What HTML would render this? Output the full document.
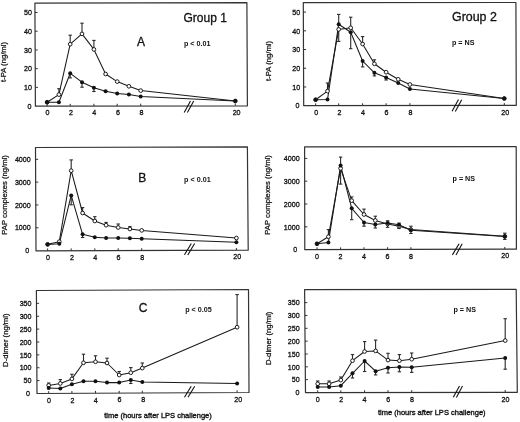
<!DOCTYPE html>
<html><head><meta charset="utf-8"><title>LPS challenge: t-PA, PAP complexes, D-dimer</title><style>
html,body{margin:0;padding:0;background:#fff;overflow:hidden;}
svg{display:block;font-family:"Liberation Sans", sans-serif;will-change:transform;}
</style></head><body>
<svg width="520" height="422" viewBox="0 0 520 422" fill="#111">
<rect width="520" height="422" fill="#fff"/>
<path d="M34.9,3.1 L246.9,2.6 L247.4,105.8 L35.4,106.2 Z" fill="none" stroke="#333" stroke-width="1.2" stroke-linejoin="round"/>
<text transform="translate(31.4,108.8) scale(0.89,1)" font-size="8.0" text-anchor="end" stroke="#111" stroke-width="0.32">0</text>
<line x1="35.31" y1="87.38" x2="37.91" y2="87.38" stroke="#333" stroke-width="1.0"/>
<text transform="translate(32,90.08) scale(0.89,1)" font-size="8.0" text-anchor="end" stroke="#111" stroke-width="0.32">10</text>
<line x1="35.22" y1="68.66" x2="37.82" y2="68.66" stroke="#333" stroke-width="1.0"/>
<text transform="translate(32,71.36) scale(0.89,1)" font-size="8.0" text-anchor="end" stroke="#111" stroke-width="0.32">20</text>
<line x1="35.13" y1="49.94" x2="37.73" y2="49.94" stroke="#333" stroke-width="1.0"/>
<text transform="translate(32,52.64) scale(0.89,1)" font-size="8.0" text-anchor="end" stroke="#111" stroke-width="0.32">30</text>
<line x1="35.04" y1="31.22" x2="37.64" y2="31.22" stroke="#333" stroke-width="1.0"/>
<text transform="translate(32,33.92) scale(0.89,1)" font-size="8.0" text-anchor="end" stroke="#111" stroke-width="0.32">40</text>
<line x1="34.95" y1="12.5" x2="37.55" y2="12.5" stroke="#333" stroke-width="1.0"/>
<text transform="translate(32,15.2) scale(0.89,1)" font-size="8.0" text-anchor="end" stroke="#111" stroke-width="0.32">50</text>
<line x1="47.1" y1="106.18" x2="47.1" y2="103.88" stroke="#333" stroke-width="1.0"/>
<text transform="translate(47.4,115.38) scale(0.89,1)" font-size="8.0" text-anchor="middle" stroke="#111" stroke-width="0.32">0</text>
<line x1="70.2" y1="106.13" x2="70.2" y2="103.83" stroke="#333" stroke-width="1.0"/>
<text transform="translate(70.9,115.33) scale(0.89,1)" font-size="8.0" text-anchor="middle" stroke="#111" stroke-width="0.32">2</text>
<line x1="93.9" y1="106.09" x2="93.9" y2="103.79" stroke="#333" stroke-width="1.0"/>
<text transform="translate(94.3,115.29) scale(0.89,1)" font-size="8.0" text-anchor="middle" stroke="#111" stroke-width="0.32">4</text>
<line x1="117.2" y1="106.05" x2="117.2" y2="103.75" stroke="#333" stroke-width="1.0"/>
<text transform="translate(118,115.24) scale(0.89,1)" font-size="8.0" text-anchor="middle" stroke="#111" stroke-width="0.32">6</text>
<line x1="140.7" y1="106" x2="140.7" y2="103.7" stroke="#333" stroke-width="1.0"/>
<text transform="translate(141.6,115.2) scale(0.89,1)" font-size="8.0" text-anchor="middle" stroke="#111" stroke-width="0.32">8</text>
<line x1="235.3" y1="105.82" x2="235.3" y2="103.52" stroke="#333" stroke-width="1.0"/>
<text transform="translate(236.6,115.02) scale(0.89,1)" font-size="8.0" text-anchor="middle" stroke="#111" stroke-width="0.32">20</text>
<line x1="184.2" y1="112.4" x2="190.5" y2="101.1" stroke="#111" stroke-width="1.1"/>
<line x1="187.4" y1="112.5" x2="193.7" y2="101.1" stroke="#111" stroke-width="1.1"/>
<line x1="58.9" y1="94.6" x2="58.9" y2="88.7" stroke="#2a2a2a" stroke-width="1.1"/>
<line x1="57.2" y1="88.7" x2="60.6" y2="88.7" stroke="#2a2a2a" stroke-width="1.1"/>
<line x1="70.2" y1="44.2" x2="70.2" y2="35.2" stroke="#2a2a2a" stroke-width="1.1"/>
<line x1="68.5" y1="35.2" x2="71.9" y2="35.2" stroke="#2a2a2a" stroke-width="1.1"/>
<line x1="82" y1="33.9" x2="82" y2="23.2" stroke="#2a2a2a" stroke-width="1.1"/>
<line x1="80.3" y1="23.2" x2="83.7" y2="23.2" stroke="#2a2a2a" stroke-width="1.1"/>
<line x1="93.9" y1="49.4" x2="93.9" y2="40.4" stroke="#2a2a2a" stroke-width="1.1"/>
<line x1="92.2" y1="40.4" x2="95.6" y2="40.4" stroke="#2a2a2a" stroke-width="1.1"/>
<line x1="70.2" y1="73.3" x2="70.2" y2="77.9" stroke="#2a2a2a" stroke-width="1.1"/>
<line x1="68.5" y1="77.9" x2="71.9" y2="77.9" stroke="#2a2a2a" stroke-width="1.1"/>
<line x1="82" y1="82.2" x2="82" y2="87.2" stroke="#2a2a2a" stroke-width="1.1"/>
<line x1="80.3" y1="87.2" x2="83.7" y2="87.2" stroke="#2a2a2a" stroke-width="1.1"/>
<line x1="93.9" y1="87.8" x2="93.9" y2="91.5" stroke="#2a2a2a" stroke-width="1.1"/>
<line x1="92.2" y1="91.5" x2="95.6" y2="91.5" stroke="#2a2a2a" stroke-width="1.1"/>
<polyline points="47.1,102.2 58.9,102.2 70.2,73.3 82,82.2 93.9,87.8 105.6,91.3 117.2,93.4 128.9,94.6 140.7,96.5 235.3,101" fill="none" stroke="#1a1a1a" stroke-width="1.05" stroke-linejoin="round"/>
<polyline points="47.1,102.2 58.9,94.6 70.2,44.2 82,33.9 93.9,49.4 105.6,74 117.2,81.6 128.9,86.3 140.7,90.6 235.3,101" fill="none" stroke="#1a1a1a" stroke-width="1.05" stroke-linejoin="round"/>
<circle cx="47.1" cy="102.2" r="1.85" fill="#fff" stroke="#111" stroke-width="0.95"/>
<circle cx="58.9" cy="94.6" r="1.85" fill="#fff" stroke="#111" stroke-width="0.95"/>
<circle cx="70.2" cy="44.2" r="1.85" fill="#fff" stroke="#111" stroke-width="0.95"/>
<circle cx="82" cy="33.9" r="1.85" fill="#fff" stroke="#111" stroke-width="0.95"/>
<circle cx="93.9" cy="49.4" r="1.85" fill="#fff" stroke="#111" stroke-width="0.95"/>
<circle cx="105.6" cy="74" r="1.85" fill="#fff" stroke="#111" stroke-width="0.95"/>
<circle cx="117.2" cy="81.6" r="1.85" fill="#fff" stroke="#111" stroke-width="0.95"/>
<circle cx="128.9" cy="86.3" r="1.85" fill="#fff" stroke="#111" stroke-width="0.95"/>
<circle cx="140.7" cy="90.6" r="1.85" fill="#fff" stroke="#111" stroke-width="0.95"/>
<circle cx="235.3" cy="101" r="1.85" fill="#fff" stroke="#111" stroke-width="0.95"/>
<circle cx="47.1" cy="102.2" r="2" fill="#111"/>
<circle cx="58.9" cy="102.2" r="2" fill="#111"/>
<circle cx="70.2" cy="73.3" r="2" fill="#111"/>
<circle cx="82" cy="82.2" r="2" fill="#111"/>
<circle cx="93.9" cy="87.8" r="2" fill="#111"/>
<circle cx="105.6" cy="91.3" r="2" fill="#111"/>
<circle cx="117.2" cy="93.4" r="2" fill="#111"/>
<circle cx="128.9" cy="94.6" r="2" fill="#111"/>
<circle cx="140.7" cy="96.5" r="2" fill="#111"/>
<circle cx="235.3" cy="101" r="2" fill="#111"/>
<text x="183.5" y="22.3" font-size="12" stroke="#111" stroke-width="0.3">Group 1</text>
<text x="137" y="45.9" font-size="12" stroke="#111" stroke-width="0.3">A</text>
<text x="183.9" y="45.8" font-size="7.2" font-weight="bold">p &lt; 0.01</text>
<text font-size="7.7" text-anchor="middle" stroke="#111" stroke-width="0.25" transform="translate(6.3,62) rotate(-90)">t-PA (ng/ml)</text>
<path d="M35.5,147.5 L247.4,146.8 L248.2,250.2 L36,250.8 Z" fill="none" stroke="#333" stroke-width="1.2" stroke-linejoin="round"/>
<text transform="translate(29.1,253.3) scale(0.89,1)" font-size="8.0" text-anchor="end" stroke="#111" stroke-width="0.32">0</text>
<line x1="35.89" y1="227.78" x2="38.49" y2="227.78" stroke="#333" stroke-width="1.0"/>
<text transform="translate(30.7,230.48) scale(0.89,1)" font-size="8.0" text-anchor="end" stroke="#111" stroke-width="0.32">1000</text>
<line x1="35.78" y1="204.96" x2="38.38" y2="204.96" stroke="#333" stroke-width="1.0"/>
<text transform="translate(30.7,207.66) scale(0.89,1)" font-size="8.0" text-anchor="end" stroke="#111" stroke-width="0.32">2000</text>
<line x1="35.67" y1="182.14" x2="38.27" y2="182.14" stroke="#333" stroke-width="1.0"/>
<text transform="translate(30.7,184.84) scale(0.89,1)" font-size="8.0" text-anchor="end" stroke="#111" stroke-width="0.32">3000</text>
<line x1="35.56" y1="159.32" x2="38.16" y2="159.32" stroke="#333" stroke-width="1.0"/>
<text transform="translate(30.7,162.02) scale(0.89,1)" font-size="8.0" text-anchor="end" stroke="#111" stroke-width="0.32">4000</text>
<line x1="47.6" y1="250.77" x2="47.6" y2="248.47" stroke="#333" stroke-width="1.0"/>
<text transform="translate(48.1,259.77) scale(0.89,1)" font-size="8.0" text-anchor="middle" stroke="#111" stroke-width="0.32">0</text>
<line x1="71.2" y1="250.7" x2="71.2" y2="248.4" stroke="#333" stroke-width="1.0"/>
<text transform="translate(71.9,259.7) scale(0.89,1)" font-size="8.0" text-anchor="middle" stroke="#111" stroke-width="0.32">2</text>
<line x1="94.8" y1="250.63" x2="94.8" y2="248.33" stroke="#333" stroke-width="1.0"/>
<text transform="translate(95.3,259.63) scale(0.89,1)" font-size="8.0" text-anchor="middle" stroke="#111" stroke-width="0.32">4</text>
<line x1="118.2" y1="250.57" x2="118.2" y2="248.27" stroke="#333" stroke-width="1.0"/>
<text transform="translate(118.6,259.57) scale(0.89,1)" font-size="8.0" text-anchor="middle" stroke="#111" stroke-width="0.32">6</text>
<line x1="141.7" y1="250.5" x2="141.7" y2="248.2" stroke="#333" stroke-width="1.0"/>
<text transform="translate(142.2,259.5) scale(0.89,1)" font-size="8.0" text-anchor="middle" stroke="#111" stroke-width="0.32">8</text>
<line x1="236.4" y1="250.23" x2="236.4" y2="247.93" stroke="#333" stroke-width="1.0"/>
<text transform="translate(237.2,259.23) scale(0.89,1)" font-size="8.0" text-anchor="middle" stroke="#111" stroke-width="0.32">20</text>
<line x1="184.5" y1="254.8" x2="191.3" y2="243.5" stroke="#111" stroke-width="1.1"/>
<line x1="187.8" y1="255" x2="194.6" y2="243.5" stroke="#111" stroke-width="1.1"/>
<line x1="71.2" y1="170.7" x2="71.2" y2="159.9" stroke="#2a2a2a" stroke-width="1.1"/>
<line x1="69.5" y1="159.9" x2="72.9" y2="159.9" stroke="#2a2a2a" stroke-width="1.1"/>
<line x1="82.6" y1="213" x2="82.6" y2="207.6" stroke="#2a2a2a" stroke-width="1.1"/>
<line x1="80.9" y1="207.6" x2="84.3" y2="207.6" stroke="#2a2a2a" stroke-width="1.1"/>
<line x1="94.8" y1="221" x2="94.8" y2="216.7" stroke="#2a2a2a" stroke-width="1.1"/>
<line x1="93.1" y1="216.7" x2="96.5" y2="216.7" stroke="#2a2a2a" stroke-width="1.1"/>
<line x1="106.1" y1="225.2" x2="106.1" y2="222.4" stroke="#2a2a2a" stroke-width="1.1"/>
<line x1="104.4" y1="222.4" x2="107.8" y2="222.4" stroke="#2a2a2a" stroke-width="1.1"/>
<line x1="118.2" y1="227.5" x2="118.2" y2="224" stroke="#2a2a2a" stroke-width="1.1"/>
<line x1="116.5" y1="224" x2="119.9" y2="224" stroke="#2a2a2a" stroke-width="1.1"/>
<line x1="129.9" y1="229" x2="129.9" y2="226.6" stroke="#2a2a2a" stroke-width="1.1"/>
<line x1="128.2" y1="226.6" x2="131.6" y2="226.6" stroke="#2a2a2a" stroke-width="1.1"/>
<line x1="71.2" y1="195.4" x2="71.2" y2="204.8" stroke="#2a2a2a" stroke-width="1.1"/>
<line x1="69.5" y1="204.8" x2="72.9" y2="204.8" stroke="#2a2a2a" stroke-width="1.1"/>
<line x1="82.6" y1="234.3" x2="82.6" y2="237.5" stroke="#2a2a2a" stroke-width="1.1"/>
<line x1="80.9" y1="237.5" x2="84.3" y2="237.5" stroke="#2a2a2a" stroke-width="1.1"/>
<polyline points="47.6,244.5 59.3,243.7 71.2,195.4 82.6,234.3 94.8,237.2 106.1,238 118.2,238.1 129.9,238.3 141.7,238.7 236.4,242.2" fill="none" stroke="#1a1a1a" stroke-width="1.05" stroke-linejoin="round"/>
<polyline points="47.6,244.3 59.3,241.7 71.2,170.7 82.6,213 94.8,221 106.1,225.2 118.2,227.5 129.9,229 141.7,230.4 236.4,238" fill="none" stroke="#1a1a1a" stroke-width="1.05" stroke-linejoin="round"/>
<circle cx="47.6" cy="244.3" r="1.85" fill="#fff" stroke="#111" stroke-width="0.95"/>
<circle cx="59.3" cy="241.7" r="1.85" fill="#fff" stroke="#111" stroke-width="0.95"/>
<circle cx="71.2" cy="170.7" r="1.85" fill="#fff" stroke="#111" stroke-width="0.95"/>
<circle cx="82.6" cy="213" r="1.85" fill="#fff" stroke="#111" stroke-width="0.95"/>
<circle cx="94.8" cy="221" r="1.85" fill="#fff" stroke="#111" stroke-width="0.95"/>
<circle cx="106.1" cy="225.2" r="1.85" fill="#fff" stroke="#111" stroke-width="0.95"/>
<circle cx="118.2" cy="227.5" r="1.85" fill="#fff" stroke="#111" stroke-width="0.95"/>
<circle cx="129.9" cy="229" r="1.85" fill="#fff" stroke="#111" stroke-width="0.95"/>
<circle cx="141.7" cy="230.4" r="1.85" fill="#fff" stroke="#111" stroke-width="0.95"/>
<circle cx="236.4" cy="238" r="1.85" fill="#fff" stroke="#111" stroke-width="0.95"/>
<circle cx="47.6" cy="244.5" r="2" fill="#111"/>
<circle cx="59.3" cy="243.7" r="2" fill="#111"/>
<circle cx="71.2" cy="195.4" r="2" fill="#111"/>
<circle cx="82.6" cy="234.3" r="2" fill="#111"/>
<circle cx="94.8" cy="237.2" r="2" fill="#111"/>
<circle cx="106.1" cy="238" r="2" fill="#111"/>
<circle cx="118.2" cy="238.1" r="2" fill="#111"/>
<circle cx="129.9" cy="238.3" r="2" fill="#111"/>
<circle cx="141.7" cy="238.7" r="2" fill="#111"/>
<circle cx="236.4" cy="242.2" r="2" fill="#111"/>
<text x="138.3" y="182.4" font-size="12" stroke="#111" stroke-width="0.3">B</text>
<text x="184.1" y="181.8" font-size="7.2" font-weight="bold">p &lt; 0.01</text>
<text font-size="7.7" text-anchor="middle" stroke="#111" stroke-width="0.25" transform="translate(6.9,195) rotate(-90)">PAP complexes (ng/ml)</text>
<path d="M36.4,290.5 L248.5,289.5 L249,392.5 L37,393.5 Z" fill="none" stroke="#333" stroke-width="1.2" stroke-linejoin="round"/>
<text transform="translate(30,396.2) scale(0.89,1)" font-size="8.0" text-anchor="end" stroke="#111" stroke-width="0.32">0</text>
<line x1="36.92" y1="380.62" x2="39.52" y2="380.62" stroke="#333" stroke-width="1.0"/>
<text transform="translate(31.5,383.32) scale(0.89,1)" font-size="8.0" text-anchor="end" stroke="#111" stroke-width="0.32">50</text>
<line x1="36.85" y1="367.74" x2="39.45" y2="367.74" stroke="#333" stroke-width="1.0"/>
<text transform="translate(31.5,370.44) scale(0.89,1)" font-size="8.0" text-anchor="end" stroke="#111" stroke-width="0.32">100</text>
<line x1="36.77" y1="354.86" x2="39.37" y2="354.86" stroke="#333" stroke-width="1.0"/>
<text transform="translate(31.5,357.56) scale(0.89,1)" font-size="8.0" text-anchor="end" stroke="#111" stroke-width="0.32">150</text>
<line x1="36.7" y1="341.98" x2="39.3" y2="341.98" stroke="#333" stroke-width="1.0"/>
<text transform="translate(31.5,344.68) scale(0.89,1)" font-size="8.0" text-anchor="end" stroke="#111" stroke-width="0.32">200</text>
<line x1="36.62" y1="329.1" x2="39.22" y2="329.1" stroke="#333" stroke-width="1.0"/>
<text transform="translate(31.5,331.8) scale(0.89,1)" font-size="8.0" text-anchor="end" stroke="#111" stroke-width="0.32">250</text>
<line x1="36.55" y1="316.22" x2="39.15" y2="316.22" stroke="#333" stroke-width="1.0"/>
<text transform="translate(31.5,318.92) scale(0.89,1)" font-size="8.0" text-anchor="end" stroke="#111" stroke-width="0.32">300</text>
<line x1="36.47" y1="303.34" x2="39.07" y2="303.34" stroke="#333" stroke-width="1.0"/>
<text transform="translate(31.5,306.04) scale(0.89,1)" font-size="8.0" text-anchor="end" stroke="#111" stroke-width="0.32">350</text>
<line x1="48.7" y1="393.44" x2="48.7" y2="391.14" stroke="#333" stroke-width="1.0"/>
<text transform="translate(49,402.74) scale(0.89,1)" font-size="8.0" text-anchor="middle" stroke="#111" stroke-width="0.32">0</text>
<line x1="71.9" y1="393.34" x2="71.9" y2="391.04" stroke="#333" stroke-width="1.0"/>
<text transform="translate(72.5,402.63) scale(0.89,1)" font-size="8.0" text-anchor="middle" stroke="#111" stroke-width="0.32">2</text>
<line x1="95.5" y1="393.22" x2="95.5" y2="390.92" stroke="#333" stroke-width="1.0"/>
<text transform="translate(95.7,402.52) scale(0.89,1)" font-size="8.0" text-anchor="middle" stroke="#111" stroke-width="0.32">4</text>
<line x1="119.2" y1="393.11" x2="119.2" y2="390.81" stroke="#333" stroke-width="1.0"/>
<text transform="translate(119.6,402.41) scale(0.89,1)" font-size="8.0" text-anchor="middle" stroke="#111" stroke-width="0.32">6</text>
<line x1="142.3" y1="393" x2="142.3" y2="390.7" stroke="#333" stroke-width="1.0"/>
<text transform="translate(143.2,402.3) scale(0.89,1)" font-size="8.0" text-anchor="middle" stroke="#111" stroke-width="0.32">8</text>
<line x1="237.1" y1="392.56" x2="237.1" y2="390.26" stroke="#333" stroke-width="1.0"/>
<text transform="translate(238.2,401.85) scale(0.89,1)" font-size="8.0" text-anchor="middle" stroke="#111" stroke-width="0.32">20</text>
<line x1="184.5" y1="397.3" x2="191.2" y2="386.3" stroke="#111" stroke-width="1.1"/>
<line x1="188" y1="397.3" x2="194.7" y2="386.3" stroke="#111" stroke-width="1.1"/>
<line x1="48.7" y1="385.4" x2="48.7" y2="383" stroke="#2a2a2a" stroke-width="1.1"/>
<line x1="47" y1="383" x2="50.4" y2="383" stroke="#2a2a2a" stroke-width="1.1"/>
<line x1="60.3" y1="383.5" x2="60.3" y2="379.6" stroke="#2a2a2a" stroke-width="1.1"/>
<line x1="58.6" y1="379.6" x2="62" y2="379.6" stroke="#2a2a2a" stroke-width="1.1"/>
<line x1="71.9" y1="378.9" x2="71.9" y2="374.3" stroke="#2a2a2a" stroke-width="1.1"/>
<line x1="70.2" y1="374.3" x2="73.6" y2="374.3" stroke="#2a2a2a" stroke-width="1.1"/>
<line x1="83.5" y1="362.8" x2="83.5" y2="354.2" stroke="#2a2a2a" stroke-width="1.1"/>
<line x1="81.8" y1="354.2" x2="85.2" y2="354.2" stroke="#2a2a2a" stroke-width="1.1"/>
<line x1="95.5" y1="361.8" x2="95.5" y2="355.8" stroke="#2a2a2a" stroke-width="1.1"/>
<line x1="93.8" y1="355.8" x2="97.2" y2="355.8" stroke="#2a2a2a" stroke-width="1.1"/>
<line x1="107" y1="363" x2="107" y2="358.2" stroke="#2a2a2a" stroke-width="1.1"/>
<line x1="105.3" y1="358.2" x2="108.7" y2="358.2" stroke="#2a2a2a" stroke-width="1.1"/>
<line x1="119.2" y1="375" x2="119.2" y2="371.5" stroke="#2a2a2a" stroke-width="1.1"/>
<line x1="117.5" y1="371.5" x2="120.9" y2="371.5" stroke="#2a2a2a" stroke-width="1.1"/>
<line x1="130.8" y1="372.7" x2="130.8" y2="367.6" stroke="#2a2a2a" stroke-width="1.1"/>
<line x1="129.1" y1="367.6" x2="132.5" y2="367.6" stroke="#2a2a2a" stroke-width="1.1"/>
<line x1="142.3" y1="368.1" x2="142.3" y2="363" stroke="#2a2a2a" stroke-width="1.1"/>
<line x1="140.6" y1="363" x2="144" y2="363" stroke="#2a2a2a" stroke-width="1.1"/>
<line x1="237.1" y1="327.2" x2="237.1" y2="294.6" stroke="#2a2a2a" stroke-width="1.1"/>
<line x1="235.4" y1="294.6" x2="238.8" y2="294.6" stroke="#2a2a2a" stroke-width="1.1"/>
<line x1="130.8" y1="380.1" x2="130.8" y2="383.5" stroke="#2a2a2a" stroke-width="1.1"/>
<line x1="129.1" y1="383.5" x2="132.5" y2="383.5" stroke="#2a2a2a" stroke-width="1.1"/>
<polyline points="48.7,387.9 60.3,388.4 71.9,384.2 83.5,381.2 95.5,381.2 107,382.6 119.2,382.6 130.8,380.1 142.3,381.9 237.1,383.4" fill="none" stroke="#1a1a1a" stroke-width="1.05" stroke-linejoin="round"/>
<polyline points="48.7,385.4 60.3,383.5 71.9,378.9 83.5,362.8 95.5,361.8 107,363 119.2,375 130.8,372.7 142.3,368.1 237.1,327.2" fill="none" stroke="#1a1a1a" stroke-width="1.05" stroke-linejoin="round"/>
<circle cx="48.7" cy="385.4" r="1.85" fill="#fff" stroke="#111" stroke-width="0.95"/>
<circle cx="60.3" cy="383.5" r="1.85" fill="#fff" stroke="#111" stroke-width="0.95"/>
<circle cx="71.9" cy="378.9" r="1.85" fill="#fff" stroke="#111" stroke-width="0.95"/>
<circle cx="83.5" cy="362.8" r="1.85" fill="#fff" stroke="#111" stroke-width="0.95"/>
<circle cx="95.5" cy="361.8" r="1.85" fill="#fff" stroke="#111" stroke-width="0.95"/>
<circle cx="107" cy="363" r="1.85" fill="#fff" stroke="#111" stroke-width="0.95"/>
<circle cx="119.2" cy="375" r="1.85" fill="#fff" stroke="#111" stroke-width="0.95"/>
<circle cx="130.8" cy="372.7" r="1.85" fill="#fff" stroke="#111" stroke-width="0.95"/>
<circle cx="142.3" cy="368.1" r="1.85" fill="#fff" stroke="#111" stroke-width="0.95"/>
<circle cx="237.1" cy="327.2" r="1.85" fill="#fff" stroke="#111" stroke-width="0.95"/>
<circle cx="48.7" cy="387.9" r="2" fill="#111"/>
<circle cx="60.3" cy="388.4" r="2" fill="#111"/>
<circle cx="71.9" cy="384.2" r="2" fill="#111"/>
<circle cx="83.5" cy="381.2" r="2" fill="#111"/>
<circle cx="95.5" cy="381.2" r="2" fill="#111"/>
<circle cx="107" cy="382.6" r="2" fill="#111"/>
<circle cx="119.2" cy="382.6" r="2" fill="#111"/>
<circle cx="130.8" cy="380.1" r="2" fill="#111"/>
<circle cx="142.3" cy="381.9" r="2" fill="#111"/>
<circle cx="237.1" cy="383.4" r="2" fill="#111"/>
<text x="138.8" y="312.3" font-size="12" stroke="#111" stroke-width="0.3">C</text>
<text x="185.2" y="311.8" font-size="7.2" font-weight="bold">p &lt; 0.05</text>
<text x="158" y="418.3" font-size="7.5" text-anchor="middle" stroke="#111" stroke-width="0.35">time (hours after LPS challenge)</text>
<text font-size="7.7" text-anchor="middle" stroke="#111" stroke-width="0.25" transform="translate(7.9,340.2) rotate(-90)">D-dimer (ng/ml)</text>
<path d="M303.3,2.7 L515.9,2.5 L516.3,105.3 L303.7,105.7 Z" fill="none" stroke="#333" stroke-width="1.2" stroke-linejoin="round"/>
<text transform="translate(299.4,108.4) scale(0.89,1)" font-size="8.0" text-anchor="end" stroke="#111" stroke-width="0.32">0</text>
<line x1="303.63" y1="86.98" x2="306.23" y2="86.98" stroke="#333" stroke-width="1.0"/>
<text transform="translate(300.2,89.68) scale(0.89,1)" font-size="8.0" text-anchor="end" stroke="#111" stroke-width="0.32">10</text>
<line x1="303.55" y1="68.26" x2="306.15" y2="68.26" stroke="#333" stroke-width="1.0"/>
<text transform="translate(300.2,70.96) scale(0.89,1)" font-size="8.0" text-anchor="end" stroke="#111" stroke-width="0.32">20</text>
<line x1="303.48" y1="49.54" x2="306.08" y2="49.54" stroke="#333" stroke-width="1.0"/>
<text transform="translate(300.2,52.24) scale(0.89,1)" font-size="8.0" text-anchor="end" stroke="#111" stroke-width="0.32">30</text>
<line x1="303.41" y1="30.82" x2="306.01" y2="30.82" stroke="#333" stroke-width="1.0"/>
<text transform="translate(300.2,33.52) scale(0.89,1)" font-size="8.0" text-anchor="end" stroke="#111" stroke-width="0.32">40</text>
<line x1="303.34" y1="12.1" x2="305.94" y2="12.1" stroke="#333" stroke-width="1.0"/>
<text transform="translate(300.2,14.8) scale(0.89,1)" font-size="8.0" text-anchor="end" stroke="#111" stroke-width="0.32">50</text>
<line x1="315.6" y1="105.68" x2="315.6" y2="103.38" stroke="#333" stroke-width="1.0"/>
<text transform="translate(316.2,115.08) scale(0.89,1)" font-size="8.0" text-anchor="middle" stroke="#111" stroke-width="0.32">0</text>
<line x1="338.7" y1="105.63" x2="338.7" y2="103.33" stroke="#333" stroke-width="1.0"/>
<text transform="translate(339.5,115.03) scale(0.89,1)" font-size="8.0" text-anchor="middle" stroke="#111" stroke-width="0.32">2</text>
<line x1="362.6" y1="105.59" x2="362.6" y2="103.29" stroke="#333" stroke-width="1.0"/>
<text transform="translate(362.9,114.99) scale(0.89,1)" font-size="8.0" text-anchor="middle" stroke="#111" stroke-width="0.32">4</text>
<line x1="386.1" y1="105.54" x2="386.1" y2="103.24" stroke="#333" stroke-width="1.0"/>
<text transform="translate(386.6,114.94) scale(0.89,1)" font-size="8.0" text-anchor="middle" stroke="#111" stroke-width="0.32">6</text>
<line x1="409.9" y1="105.5" x2="409.9" y2="103.2" stroke="#333" stroke-width="1.0"/>
<text transform="translate(410.5,114.9) scale(0.89,1)" font-size="8.0" text-anchor="middle" stroke="#111" stroke-width="0.32">8</text>
<line x1="504.3" y1="105.32" x2="504.3" y2="103.02" stroke="#333" stroke-width="1.0"/>
<text transform="translate(505.2,114.72) scale(0.89,1)" font-size="8.0" text-anchor="middle" stroke="#111" stroke-width="0.32">20</text>
<line x1="452.1" y1="111.3" x2="458.5" y2="99.5" stroke="#111" stroke-width="1.1"/>
<line x1="455.3" y1="111.5" x2="461.7" y2="99.8" stroke="#111" stroke-width="1.1"/>
<line x1="327.5" y1="91.1" x2="327.5" y2="83" stroke="#2a2a2a" stroke-width="1.1"/>
<line x1="325.8" y1="83" x2="329.2" y2="83" stroke="#2a2a2a" stroke-width="1.1"/>
<line x1="338.7" y1="29.4" x2="338.7" y2="41.4" stroke="#2a2a2a" stroke-width="1.1"/>
<line x1="337" y1="41.4" x2="340.4" y2="41.4" stroke="#2a2a2a" stroke-width="1.1"/>
<line x1="350.7" y1="27.8" x2="350.7" y2="17.2" stroke="#2a2a2a" stroke-width="1.1"/>
<line x1="349" y1="17.2" x2="352.4" y2="17.2" stroke="#2a2a2a" stroke-width="1.1"/>
<line x1="362.6" y1="44" x2="362.6" y2="36.6" stroke="#2a2a2a" stroke-width="1.1"/>
<line x1="360.9" y1="36.6" x2="364.3" y2="36.6" stroke="#2a2a2a" stroke-width="1.1"/>
<line x1="374.4" y1="63.8" x2="374.4" y2="59.8" stroke="#2a2a2a" stroke-width="1.1"/>
<line x1="372.7" y1="59.8" x2="376.1" y2="59.8" stroke="#2a2a2a" stroke-width="1.1"/>
<line x1="338.7" y1="24.2" x2="338.7" y2="14.4" stroke="#2a2a2a" stroke-width="1.1"/>
<line x1="337" y1="14.4" x2="340.4" y2="14.4" stroke="#2a2a2a" stroke-width="1.1"/>
<line x1="350.7" y1="32.3" x2="350.7" y2="48.7" stroke="#2a2a2a" stroke-width="1.1"/>
<line x1="349" y1="48.7" x2="352.4" y2="48.7" stroke="#2a2a2a" stroke-width="1.1"/>
<line x1="362.6" y1="61" x2="362.6" y2="66.9" stroke="#2a2a2a" stroke-width="1.1"/>
<line x1="360.9" y1="66.9" x2="364.3" y2="66.9" stroke="#2a2a2a" stroke-width="1.1"/>
<line x1="374.4" y1="72.8" x2="374.4" y2="75.9" stroke="#2a2a2a" stroke-width="1.1"/>
<line x1="372.7" y1="75.9" x2="376.1" y2="75.9" stroke="#2a2a2a" stroke-width="1.1"/>
<line x1="386.1" y1="77.6" x2="386.1" y2="80" stroke="#2a2a2a" stroke-width="1.1"/>
<line x1="384.4" y1="80" x2="387.8" y2="80" stroke="#2a2a2a" stroke-width="1.1"/>
<polyline points="315.6,99.7 327.5,99.6 338.7,24.2 350.7,32.3 362.6,61 374.4,72.8 386.1,77.6 398.2,83 409.9,89 504.3,98.6" fill="none" stroke="#1a1a1a" stroke-width="1.05" stroke-linejoin="round"/>
<polyline points="315.6,99.7 327.5,91.1 338.7,29.4 350.7,27.8 362.6,44 374.4,63.8 386.1,72.2 398.2,79.3 409.9,84.5 504.3,98.5" fill="none" stroke="#1a1a1a" stroke-width="1.05" stroke-linejoin="round"/>
<circle cx="315.6" cy="99.7" r="1.85" fill="#fff" stroke="#111" stroke-width="0.95"/>
<circle cx="327.5" cy="91.1" r="1.85" fill="#fff" stroke="#111" stroke-width="0.95"/>
<circle cx="338.7" cy="29.4" r="1.85" fill="#fff" stroke="#111" stroke-width="0.95"/>
<circle cx="350.7" cy="27.8" r="1.85" fill="#fff" stroke="#111" stroke-width="0.95"/>
<circle cx="362.6" cy="44" r="1.85" fill="#fff" stroke="#111" stroke-width="0.95"/>
<circle cx="374.4" cy="63.8" r="1.85" fill="#fff" stroke="#111" stroke-width="0.95"/>
<circle cx="386.1" cy="72.2" r="1.85" fill="#fff" stroke="#111" stroke-width="0.95"/>
<circle cx="398.2" cy="79.3" r="1.85" fill="#fff" stroke="#111" stroke-width="0.95"/>
<circle cx="409.9" cy="84.5" r="1.85" fill="#fff" stroke="#111" stroke-width="0.95"/>
<circle cx="504.3" cy="98.5" r="1.85" fill="#fff" stroke="#111" stroke-width="0.95"/>
<circle cx="315.6" cy="99.7" r="2" fill="#111"/>
<circle cx="327.5" cy="99.6" r="2" fill="#111"/>
<circle cx="338.7" cy="24.2" r="2" fill="#111"/>
<circle cx="350.7" cy="32.3" r="2" fill="#111"/>
<circle cx="362.6" cy="61" r="2" fill="#111"/>
<circle cx="374.4" cy="72.8" r="2" fill="#111"/>
<circle cx="386.1" cy="77.6" r="2" fill="#111"/>
<circle cx="398.2" cy="83" r="2" fill="#111"/>
<circle cx="409.9" cy="89" r="2" fill="#111"/>
<circle cx="504.3" cy="98.6" r="2" fill="#111"/>
<text x="452" y="20.9" font-size="12.4" stroke="#111" stroke-width="0.3">Group 2</text>
<text x="451.9" y="45.3" font-size="7.2" font-weight="bold">p = NS</text>
<text font-size="7.7" text-anchor="middle" stroke="#111" stroke-width="0.25" transform="translate(270.5,60.9) rotate(-90)">t-PA (ng/ml)</text>
<path d="M304.6,146.9 L516.2,146.6 L516.4,249.2 L304.8,249.7 Z" fill="none" stroke="#333" stroke-width="1.2" stroke-linejoin="round"/>
<text transform="translate(297.1,252.3) scale(0.89,1)" font-size="8.0" text-anchor="end" stroke="#111" stroke-width="0.32">0</text>
<line x1="304.76" y1="226.8" x2="307.36" y2="226.8" stroke="#333" stroke-width="1.0"/>
<text transform="translate(299.6,229.5) scale(0.89,1)" font-size="8.0" text-anchor="end" stroke="#111" stroke-width="0.32">1000</text>
<line x1="304.71" y1="204" x2="307.31" y2="204" stroke="#333" stroke-width="1.0"/>
<text transform="translate(299.6,206.7) scale(0.89,1)" font-size="8.0" text-anchor="end" stroke="#111" stroke-width="0.32">2000</text>
<line x1="304.67" y1="181.2" x2="307.27" y2="181.2" stroke="#333" stroke-width="1.0"/>
<text transform="translate(299.6,183.9) scale(0.89,1)" font-size="8.0" text-anchor="end" stroke="#111" stroke-width="0.32">3000</text>
<line x1="304.62" y1="158.4" x2="307.22" y2="158.4" stroke="#333" stroke-width="1.0"/>
<text transform="translate(299.6,161.1) scale(0.89,1)" font-size="8.0" text-anchor="end" stroke="#111" stroke-width="0.32">4000</text>
<line x1="317" y1="249.67" x2="317" y2="247.37" stroke="#333" stroke-width="1.0"/>
<text transform="translate(317,258.87) scale(0.89,1)" font-size="8.0" text-anchor="middle" stroke="#111" stroke-width="0.32">0</text>
<line x1="340.6" y1="249.62" x2="340.6" y2="247.32" stroke="#333" stroke-width="1.0"/>
<text transform="translate(340.6,258.82) scale(0.89,1)" font-size="8.0" text-anchor="middle" stroke="#111" stroke-width="0.32">2</text>
<line x1="364" y1="249.56" x2="364" y2="247.26" stroke="#333" stroke-width="1.0"/>
<text transform="translate(364,258.76) scale(0.89,1)" font-size="8.0" text-anchor="middle" stroke="#111" stroke-width="0.32">4</text>
<line x1="387.6" y1="249.5" x2="387.6" y2="247.2" stroke="#333" stroke-width="1.0"/>
<text transform="translate(387.6,258.7) scale(0.89,1)" font-size="8.0" text-anchor="middle" stroke="#111" stroke-width="0.32">6</text>
<line x1="410.9" y1="249.45" x2="410.9" y2="247.15" stroke="#333" stroke-width="1.0"/>
<text transform="translate(410.9,258.65) scale(0.89,1)" font-size="8.0" text-anchor="middle" stroke="#111" stroke-width="0.32">8</text>
<line x1="504.8" y1="249.23" x2="504.8" y2="246.93" stroke="#333" stroke-width="1.0"/>
<text transform="translate(505.2,258.43) scale(0.89,1)" font-size="8.0" text-anchor="middle" stroke="#111" stroke-width="0.32">20</text>
<line x1="452.4" y1="254.9" x2="459.1" y2="243.7" stroke="#111" stroke-width="1.1"/>
<line x1="456" y1="254.9" x2="462.2" y2="243.7" stroke="#111" stroke-width="1.1"/>
<line x1="328.4" y1="236.7" x2="328.4" y2="229.6" stroke="#2a2a2a" stroke-width="1.1"/>
<line x1="326.7" y1="229.6" x2="330.1" y2="229.6" stroke="#2a2a2a" stroke-width="1.1"/>
<line x1="340.6" y1="168.4" x2="340.6" y2="184.1" stroke="#2a2a2a" stroke-width="1.1"/>
<line x1="338.9" y1="184.1" x2="342.3" y2="184.1" stroke="#2a2a2a" stroke-width="1.1"/>
<line x1="351.7" y1="200.6" x2="351.7" y2="196.9" stroke="#2a2a2a" stroke-width="1.1"/>
<line x1="350" y1="196.9" x2="353.4" y2="196.9" stroke="#2a2a2a" stroke-width="1.1"/>
<line x1="364" y1="214.5" x2="364" y2="209.1" stroke="#2a2a2a" stroke-width="1.1"/>
<line x1="362.3" y1="209.1" x2="365.7" y2="209.1" stroke="#2a2a2a" stroke-width="1.1"/>
<line x1="375.3" y1="220.5" x2="375.3" y2="216.2" stroke="#2a2a2a" stroke-width="1.1"/>
<line x1="373.6" y1="216.2" x2="377" y2="216.2" stroke="#2a2a2a" stroke-width="1.1"/>
<line x1="340.6" y1="165.6" x2="340.6" y2="157.1" stroke="#2a2a2a" stroke-width="1.1"/>
<line x1="338.9" y1="157.1" x2="342.3" y2="157.1" stroke="#2a2a2a" stroke-width="1.1"/>
<line x1="351.7" y1="208.3" x2="351.7" y2="219.7" stroke="#2a2a2a" stroke-width="1.1"/>
<line x1="350" y1="219.7" x2="353.4" y2="219.7" stroke="#2a2a2a" stroke-width="1.1"/>
<line x1="364" y1="222.5" x2="364" y2="226.2" stroke="#2a2a2a" stroke-width="1.1"/>
<line x1="362.3" y1="226.2" x2="365.7" y2="226.2" stroke="#2a2a2a" stroke-width="1.1"/>
<line x1="375.3" y1="224.5" x2="375.3" y2="228" stroke="#2a2a2a" stroke-width="1.1"/>
<line x1="373.6" y1="228" x2="377" y2="228" stroke="#2a2a2a" stroke-width="1.1"/>
<line x1="387.6" y1="223.4" x2="387.6" y2="220.8" stroke="#2a2a2a" stroke-width="1.1"/>
<line x1="385.9" y1="220.8" x2="389.3" y2="220.8" stroke="#2a2a2a" stroke-width="1.1"/>
<line x1="387.6" y1="223.4" x2="387.6" y2="227.3" stroke="#2a2a2a" stroke-width="1.1"/>
<line x1="385.9" y1="227.3" x2="389.3" y2="227.3" stroke="#2a2a2a" stroke-width="1.1"/>
<line x1="399" y1="225.5" x2="399" y2="223.1" stroke="#2a2a2a" stroke-width="1.1"/>
<line x1="397.3" y1="223.1" x2="400.7" y2="223.1" stroke="#2a2a2a" stroke-width="1.1"/>
<line x1="399" y1="225.5" x2="399" y2="228.5" stroke="#2a2a2a" stroke-width="1.1"/>
<line x1="397.3" y1="228.5" x2="400.7" y2="228.5" stroke="#2a2a2a" stroke-width="1.1"/>
<line x1="410.9" y1="229.9" x2="410.9" y2="226.2" stroke="#2a2a2a" stroke-width="1.1"/>
<line x1="409.2" y1="226.2" x2="412.6" y2="226.2" stroke="#2a2a2a" stroke-width="1.1"/>
<line x1="410.9" y1="229.9" x2="410.9" y2="233.5" stroke="#2a2a2a" stroke-width="1.1"/>
<line x1="409.2" y1="233.5" x2="412.6" y2="233.5" stroke="#2a2a2a" stroke-width="1.1"/>
<line x1="504.8" y1="236.4" x2="504.8" y2="233.2" stroke="#2a2a2a" stroke-width="1.1"/>
<line x1="503.1" y1="233.2" x2="506.5" y2="233.2" stroke="#2a2a2a" stroke-width="1.1"/>
<line x1="504.8" y1="236.4" x2="504.8" y2="239.4" stroke="#2a2a2a" stroke-width="1.1"/>
<line x1="503.1" y1="239.4" x2="506.5" y2="239.4" stroke="#2a2a2a" stroke-width="1.1"/>
<polyline points="317,243.8 328.4,242.4 340.6,165.6 351.7,208.3 364,222.5 375.3,224.5 387.6,223.1 399,224.8 410.9,230.2 504.8,236.5" fill="none" stroke="#1a1a1a" stroke-width="1.05" stroke-linejoin="round"/>
<polyline points="317,243.8 328.4,236.7 340.6,168.4 351.7,200.6 364,214.5 375.3,220.5 387.6,223.9 399,226.2 410.9,229.6 504.8,236.3" fill="none" stroke="#1a1a1a" stroke-width="1.05" stroke-linejoin="round"/>
<circle cx="317" cy="243.8" r="1.85" fill="#fff" stroke="#111" stroke-width="0.95"/>
<circle cx="328.4" cy="236.7" r="1.85" fill="#fff" stroke="#111" stroke-width="0.95"/>
<circle cx="340.6" cy="168.4" r="1.85" fill="#fff" stroke="#111" stroke-width="0.95"/>
<circle cx="351.7" cy="200.6" r="1.85" fill="#fff" stroke="#111" stroke-width="0.95"/>
<circle cx="364" cy="214.5" r="1.85" fill="#fff" stroke="#111" stroke-width="0.95"/>
<circle cx="375.3" cy="220.5" r="1.85" fill="#fff" stroke="#111" stroke-width="0.95"/>
<circle cx="387.6" cy="223.9" r="1.85" fill="#fff" stroke="#111" stroke-width="0.95"/>
<circle cx="399" cy="226.2" r="1.85" fill="#fff" stroke="#111" stroke-width="0.95"/>
<circle cx="410.9" cy="229.6" r="1.85" fill="#fff" stroke="#111" stroke-width="0.95"/>
<circle cx="504.8" cy="236.3" r="1.85" fill="#fff" stroke="#111" stroke-width="0.95"/>
<circle cx="317" cy="243.8" r="2" fill="#111"/>
<circle cx="328.4" cy="242.4" r="2" fill="#111"/>
<circle cx="340.6" cy="165.6" r="2" fill="#111"/>
<circle cx="351.7" cy="208.3" r="2" fill="#111"/>
<circle cx="364" cy="222.5" r="2" fill="#111"/>
<circle cx="375.3" cy="224.5" r="2" fill="#111"/>
<circle cx="387.6" cy="223.1" r="2" fill="#111"/>
<circle cx="399" cy="224.8" r="2" fill="#111"/>
<circle cx="410.9" cy="230.2" r="2" fill="#111"/>
<circle cx="504.8" cy="236.5" r="2" fill="#111"/>
<text x="452.5" y="180.9" font-size="7.2" font-weight="bold">p = NS</text>
<text font-size="7.7" text-anchor="middle" stroke="#111" stroke-width="0.25" transform="translate(270.2,194.9) rotate(-90)">PAP complexes (ng/ml)</text>
<path d="M304.6,289.6 L516.2,289.4 L517.3,392.3 L305.5,392.6 Z" fill="none" stroke="#333" stroke-width="1.2" stroke-linejoin="round"/>
<text transform="translate(299.4,395.2) scale(0.89,1)" font-size="8.0" text-anchor="end" stroke="#111" stroke-width="0.32">0</text>
<line x1="305.39" y1="379.66" x2="307.99" y2="379.66" stroke="#333" stroke-width="1.0"/>
<text transform="translate(299.7,382.36) scale(0.89,1)" font-size="8.0" text-anchor="end" stroke="#111" stroke-width="0.32">50</text>
<line x1="305.27" y1="366.82" x2="307.87" y2="366.82" stroke="#333" stroke-width="1.0"/>
<text transform="translate(299.7,369.52) scale(0.89,1)" font-size="8.0" text-anchor="end" stroke="#111" stroke-width="0.32">100</text>
<line x1="305.16" y1="353.98" x2="307.76" y2="353.98" stroke="#333" stroke-width="1.0"/>
<text transform="translate(299.7,356.68) scale(0.89,1)" font-size="8.0" text-anchor="end" stroke="#111" stroke-width="0.32">150</text>
<line x1="305.05" y1="341.14" x2="307.65" y2="341.14" stroke="#333" stroke-width="1.0"/>
<text transform="translate(299.7,343.84) scale(0.89,1)" font-size="8.0" text-anchor="end" stroke="#111" stroke-width="0.32">200</text>
<line x1="304.94" y1="328.3" x2="307.54" y2="328.3" stroke="#333" stroke-width="1.0"/>
<text transform="translate(299.7,331) scale(0.89,1)" font-size="8.0" text-anchor="end" stroke="#111" stroke-width="0.32">250</text>
<line x1="304.83" y1="315.46" x2="307.43" y2="315.46" stroke="#333" stroke-width="1.0"/>
<text transform="translate(299.7,318.16) scale(0.89,1)" font-size="8.0" text-anchor="end" stroke="#111" stroke-width="0.32">300</text>
<line x1="304.71" y1="302.62" x2="307.31" y2="302.62" stroke="#333" stroke-width="1.0"/>
<text transform="translate(299.7,305.32) scale(0.89,1)" font-size="8.0" text-anchor="end" stroke="#111" stroke-width="0.32">350</text>
<line x1="317.7" y1="392.58" x2="317.7" y2="390.28" stroke="#333" stroke-width="1.0"/>
<text transform="translate(317.7,401.78) scale(0.89,1)" font-size="8.0" text-anchor="middle" stroke="#111" stroke-width="0.32">0</text>
<line x1="340.8" y1="392.55" x2="340.8" y2="390.25" stroke="#333" stroke-width="1.0"/>
<text transform="translate(341.2,401.75) scale(0.89,1)" font-size="8.0" text-anchor="middle" stroke="#111" stroke-width="0.32">2</text>
<line x1="364.6" y1="392.52" x2="364.6" y2="390.22" stroke="#333" stroke-width="1.0"/>
<text transform="translate(364.6,401.72) scale(0.89,1)" font-size="8.0" text-anchor="middle" stroke="#111" stroke-width="0.32">4</text>
<line x1="388" y1="392.48" x2="388" y2="390.18" stroke="#333" stroke-width="1.0"/>
<text transform="translate(388.3,401.68) scale(0.89,1)" font-size="8.0" text-anchor="middle" stroke="#111" stroke-width="0.32">6</text>
<line x1="411.7" y1="392.45" x2="411.7" y2="390.15" stroke="#333" stroke-width="1.0"/>
<text transform="translate(412.1,401.65) scale(0.89,1)" font-size="8.0" text-anchor="middle" stroke="#111" stroke-width="0.32">8</text>
<line x1="505.2" y1="392.32" x2="505.2" y2="390.02" stroke="#333" stroke-width="1.0"/>
<text transform="translate(505.5,401.52) scale(0.89,1)" font-size="8.0" text-anchor="middle" stroke="#111" stroke-width="0.32">20</text>
<line x1="453.3" y1="397.2" x2="459.5" y2="386" stroke="#111" stroke-width="1.1"/>
<line x1="456.4" y1="397.4" x2="462.5" y2="386.1" stroke="#111" stroke-width="1.1"/>
<line x1="317.7" y1="383.8" x2="317.7" y2="381" stroke="#2a2a2a" stroke-width="1.1"/>
<line x1="316" y1="381" x2="319.4" y2="381" stroke="#2a2a2a" stroke-width="1.1"/>
<line x1="329.1" y1="383.8" x2="329.1" y2="381" stroke="#2a2a2a" stroke-width="1.1"/>
<line x1="327.4" y1="381" x2="330.8" y2="381" stroke="#2a2a2a" stroke-width="1.1"/>
<line x1="340.8" y1="380.1" x2="340.8" y2="377" stroke="#2a2a2a" stroke-width="1.1"/>
<line x1="339.1" y1="377" x2="342.5" y2="377" stroke="#2a2a2a" stroke-width="1.1"/>
<line x1="352.5" y1="360.7" x2="352.5" y2="354.6" stroke="#2a2a2a" stroke-width="1.1"/>
<line x1="350.8" y1="354.6" x2="354.2" y2="354.6" stroke="#2a2a2a" stroke-width="1.1"/>
<line x1="364.6" y1="351.5" x2="364.6" y2="341.6" stroke="#2a2a2a" stroke-width="1.1"/>
<line x1="362.9" y1="341.6" x2="366.3" y2="341.6" stroke="#2a2a2a" stroke-width="1.1"/>
<line x1="375.6" y1="350.9" x2="375.6" y2="340.1" stroke="#2a2a2a" stroke-width="1.1"/>
<line x1="373.9" y1="340.1" x2="377.3" y2="340.1" stroke="#2a2a2a" stroke-width="1.1"/>
<line x1="388" y1="360.1" x2="388" y2="353.3" stroke="#2a2a2a" stroke-width="1.1"/>
<line x1="386.3" y1="353.3" x2="389.7" y2="353.3" stroke="#2a2a2a" stroke-width="1.1"/>
<line x1="399.4" y1="360.7" x2="399.4" y2="354.6" stroke="#2a2a2a" stroke-width="1.1"/>
<line x1="397.7" y1="354.6" x2="401.1" y2="354.6" stroke="#2a2a2a" stroke-width="1.1"/>
<line x1="411.7" y1="359.2" x2="411.7" y2="353" stroke="#2a2a2a" stroke-width="1.1"/>
<line x1="410" y1="353" x2="413.4" y2="353" stroke="#2a2a2a" stroke-width="1.1"/>
<line x1="505.2" y1="340.6" x2="505.2" y2="318.7" stroke="#2a2a2a" stroke-width="1.1"/>
<line x1="503.5" y1="318.7" x2="506.9" y2="318.7" stroke="#2a2a2a" stroke-width="1.1"/>
<line x1="352.5" y1="373.3" x2="352.5" y2="378" stroke="#2a2a2a" stroke-width="1.1"/>
<line x1="350.8" y1="378" x2="354.2" y2="378" stroke="#2a2a2a" stroke-width="1.1"/>
<line x1="364.6" y1="361" x2="364.6" y2="371.5" stroke="#2a2a2a" stroke-width="1.1"/>
<line x1="362.9" y1="371.5" x2="366.3" y2="371.5" stroke="#2a2a2a" stroke-width="1.1"/>
<line x1="375.6" y1="371.2" x2="375.6" y2="374.9" stroke="#2a2a2a" stroke-width="1.1"/>
<line x1="373.9" y1="374.9" x2="377.3" y2="374.9" stroke="#2a2a2a" stroke-width="1.1"/>
<line x1="388" y1="367.8" x2="388" y2="373" stroke="#2a2a2a" stroke-width="1.1"/>
<line x1="386.3" y1="373" x2="389.7" y2="373" stroke="#2a2a2a" stroke-width="1.1"/>
<line x1="399.4" y1="366.9" x2="399.4" y2="371.8" stroke="#2a2a2a" stroke-width="1.1"/>
<line x1="397.7" y1="371.8" x2="401.1" y2="371.8" stroke="#2a2a2a" stroke-width="1.1"/>
<line x1="411.7" y1="367.2" x2="411.7" y2="372.4" stroke="#2a2a2a" stroke-width="1.1"/>
<line x1="410" y1="372.4" x2="413.4" y2="372.4" stroke="#2a2a2a" stroke-width="1.1"/>
<line x1="505.2" y1="358.1" x2="505.2" y2="369.2" stroke="#2a2a2a" stroke-width="1.1"/>
<line x1="503.5" y1="369.2" x2="506.9" y2="369.2" stroke="#2a2a2a" stroke-width="1.1"/>
<polyline points="317.7,386.9 329.1,386.9 340.8,385.7 352.5,373.3 364.6,361 375.6,371.2 388,367.8 399.4,366.9 411.7,367.2 505.2,358.1" fill="none" stroke="#1a1a1a" stroke-width="1.05" stroke-linejoin="round"/>
<polyline points="317.7,383.8 329.1,383.8 340.8,380.1 352.5,360.7 364.6,351.5 375.6,350.9 388,360.1 399.4,360.7 411.7,359.2 505.2,340.6" fill="none" stroke="#1a1a1a" stroke-width="1.05" stroke-linejoin="round"/>
<circle cx="317.7" cy="383.8" r="1.85" fill="#fff" stroke="#111" stroke-width="0.95"/>
<circle cx="329.1" cy="383.8" r="1.85" fill="#fff" stroke="#111" stroke-width="0.95"/>
<circle cx="340.8" cy="380.1" r="1.85" fill="#fff" stroke="#111" stroke-width="0.95"/>
<circle cx="352.5" cy="360.7" r="1.85" fill="#fff" stroke="#111" stroke-width="0.95"/>
<circle cx="364.6" cy="351.5" r="1.85" fill="#fff" stroke="#111" stroke-width="0.95"/>
<circle cx="375.6" cy="350.9" r="1.85" fill="#fff" stroke="#111" stroke-width="0.95"/>
<circle cx="388" cy="360.1" r="1.85" fill="#fff" stroke="#111" stroke-width="0.95"/>
<circle cx="399.4" cy="360.7" r="1.85" fill="#fff" stroke="#111" stroke-width="0.95"/>
<circle cx="411.7" cy="359.2" r="1.85" fill="#fff" stroke="#111" stroke-width="0.95"/>
<circle cx="505.2" cy="340.6" r="1.85" fill="#fff" stroke="#111" stroke-width="0.95"/>
<circle cx="317.7" cy="386.9" r="2" fill="#111"/>
<circle cx="329.1" cy="386.9" r="2" fill="#111"/>
<circle cx="340.8" cy="385.7" r="2" fill="#111"/>
<circle cx="352.5" cy="373.3" r="2" fill="#111"/>
<circle cx="364.6" cy="361" r="2" fill="#111"/>
<circle cx="375.6" cy="371.2" r="2" fill="#111"/>
<circle cx="388" cy="367.8" r="2" fill="#111"/>
<circle cx="399.4" cy="366.9" r="2" fill="#111"/>
<circle cx="411.7" cy="367.2" r="2" fill="#111"/>
<circle cx="505.2" cy="358.1" r="2" fill="#111"/>
<text x="453.4" y="311.7" font-size="7.2" font-weight="bold">p = NS</text>
<text x="431.8" y="415.3" font-size="7.5" text-anchor="middle" stroke="#111" stroke-width="0.35">time (hours after LPS challenge)</text>
<text font-size="7.7" text-anchor="middle" stroke="#111" stroke-width="0.25" transform="translate(271,338.3) rotate(-90)">D-dimer (ng/ml)</text>
</svg>
</body></html>
